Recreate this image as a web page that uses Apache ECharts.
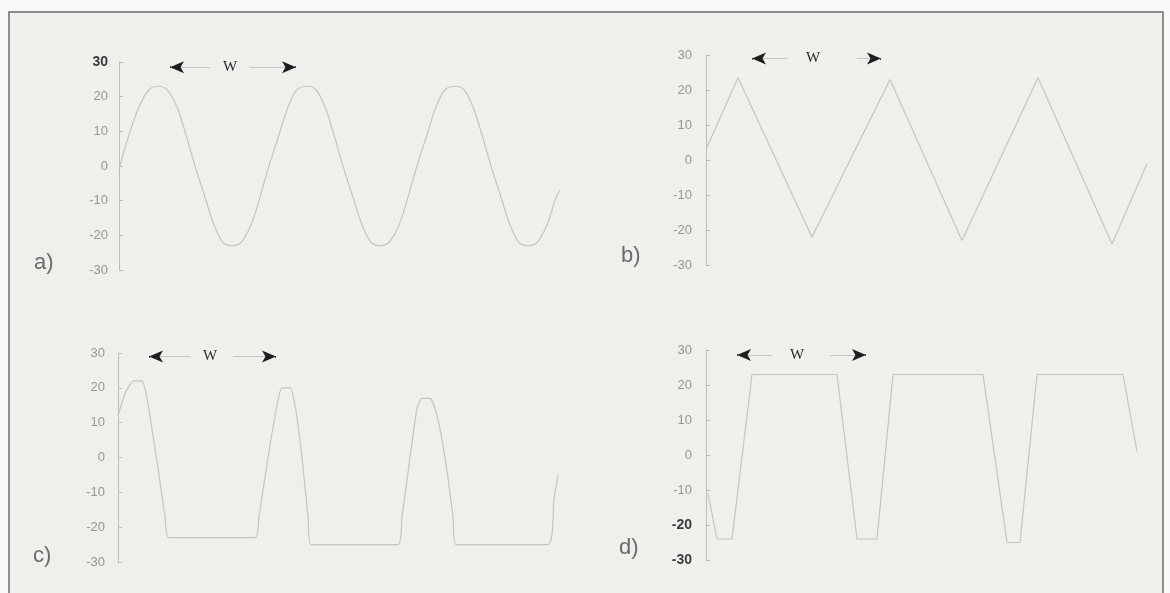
<!DOCTYPE html>
<html><head><meta charset="utf-8">
<script src="https://cdn.jsdelivr.net/npm/echarts@6/dist/echarts.min.js"></script>
<style>html,body{margin:0;padding:0;background:#f9f9f7;}#c{width:1170px;height:593px;}</style>
</head><body><div id="c"></div>
<script>
// ---- data (time offsets along the trace, amplitude values) ----
const yTicks = [-30, -20, -10, 0, 10, 20, 30];
const panelLabels = ['a)', 'b)', 'c)', 'd)'];
const wText = 'W';

// a) sine wave
const tA = [0,10,20,30,39,48,58,67,76,86,95,104,113,122,132,141,150,160,169,178,188,197,206,215,224,234,243,252,261,270,280,289,298,308,317,326,336,345,354,363,372,382,391,400,409,418,428,437,441];
const vA = [-1,9,17,22,23,22,17,9,0,-9,-17,-22,-23,-22,-17,-9,0,9,17,22,23,22,17,9,0,-9,-17,-22,-23,-22,-17,-9,0,9,17,22,23,22,17,9,0,-9,-17,-22,-23,-22,-17,-9,-7];
// b) triangle wave
const tB = [0,32,106,184,256,332,406,441];
const vB = [3,23.5,-22,23,-23,23.5,-24,-1];
// c) narrow positive pulses, clipped at the bottom
const tC = [0,8,16,24,29,33,40,47,51,137,141,150,159,164,172,177,184,190,193,280,284,292,299,304,312,319,327,335,338,430,436,440];
const vC = [12,19,22,22,17,10,-3,-17,-23,-23,-17,0,15,20,20,15,0,-17,-25,-25,-17,0,14,17,17,12,0,-17,-25,-25,-12,-5];
// d) narrow negative pulses, clipped at the top
const tD = [2,11,26,46,131,151,171,187,277,301,314,331,417,431];
const vD = [-11,-24,-24,23,23,-24,-24,23,23,-25,-25,23,23,1];

// W period marker (arrow head centres, faint line ends, label position, level)
const wA = {l: 51, lEnd: 91, txt: 111, rStart: 131, r: 177, y: 28.5};
const wB = {l: 46, lEnd: 81, txt: 107, rStart: 151, r: 175, y: 29};
const wC = {l: 31, lEnd: 72, txt: 92, rStart: 115, r: 158, y: 29};
const wD = {l: 31, lEnd: 66, txt: 91, rStart: 124, r: 160, y: 28.6};

const strongLabels = [[30], [], [], [-20, -30]];

const grids = [
  {left: 119, top: 62, width: 445, height: 208},
  {left: 706, top: 55, width: 445, height: 210},
  {left: 118, top: 353, width: 445, height: 209},
  {left: 706, top: 350, width: 445, height: 210}
];
const titlePos = [
  {left: 29, top: 247}, {left: 616, top: 240}, {left: 28, top: 540}, {left: 614, top: 532}
];
const labelMargin = [11, 14, 13, 14];

const traces = [[tA, vA], [tB, vB], [tC, vC], [tD, vD]];
const ws = [wA, wB, wC, wD];
const smooth = [0.35, false, 0.2, false];

function zip(t, v) { return t.map((x, i) => [x, v[i]]); }

function markLines(w) {
  const faint = {color: '#c4c4c2', width: 1, type: 'solid'};
  const dark = {color: '#1e1e1e', width: 1.5, type: 'solid'};
  return [
    [{coord: [w.l, w.y], symbol: 'none', lineStyle: faint}, {coord: [w.lEnd, w.y], symbol: 'none'}],
    [{coord: [w.rStart, w.y], symbol: 'none', lineStyle: faint}, {coord: [w.r, w.y], symbol: 'none'}],
    [{coord: [w.l, w.y], symbol: 'arrow', lineStyle: dark}, {coord: [w.l + 1, w.y], symbol: 'none'}],
    [{coord: [w.r - 1, w.y], symbol: 'none', lineStyle: dark}, {coord: [w.r, w.y], symbol: 'arrow'}]
  ];
}

const option = {
  animation: false,
  backgroundColor: '#f9f9f7',
  graphic: [{
    type: 'rect', silent: true, z: 0,
    shape: {x: 9, y: 12, width: 1154, height: 592},
    style: {fill: '#efefec', stroke: '#8e8e8c', lineWidth: 2}
  }],
  title: panelLabels.map((t, i) => ({
    text: t, left: titlePos[i].left, top: titlePos[i].top,
    textStyle: {fontSize: 22, fontWeight: 'normal', color: '#6a6a6a', fontFamily: 'Liberation Sans, Arial, sans-serif'}
  })),
  grid: grids,
  xAxis: grids.map((g, i) => ({
    type: 'value', gridIndex: i, min: 0, max: 445, show: false
  })),
  yAxis: grids.map((g, i) => ({
    type: 'value', gridIndex: i, min: -30, max: 30, interval: 10,
    axisLine: {show: true, lineStyle: {color: '#bcbcba', width: 1}},
    axisTick: {show: true, inside: true, length: 4, lineStyle: {color: '#bcbcba'}},
    splitLine: {show: false},
    axisLabel: {
      margin: labelMargin[i],
      formatter: v => (strongLabels[i].indexOf(v) >= 0 ? '{s|' + v + '}' : '{n|' + v + '}'),
      rich: {
        s: {fontSize: 14, fontWeight: 'bold', color: '#3c3c3c', fontFamily: 'Liberation Sans, Arial, sans-serif'},
        n: {fontSize: 13, color: '#969694', fontFamily: 'Liberation Sans, Arial, sans-serif'}
      }
    }
  })),
  series: traces.map((tr, i) => ({
    type: 'line', xAxisIndex: i, yAxisIndex: i,
    data: zip(tr[0], tr[1]),
    showSymbol: false, smooth: smooth[i],
    lineStyle: {color: '#c4c4c2', width: 1.2},
    z: 3,
    markLine: {
      silent: true, animation: false, symbolSize: [9, 14],
      label: {show: false},
      data: markLines(ws[i])
    },
    markPoint: {
      silent: true, animation: false,
      symbol: 'rect', symbolSize: 1, itemStyle: {color: 'rgba(0,0,0,0)'},
      label: {show: true, position: 'inside', formatter: wText, color: '#2a2a2a', fontSize: 15, fontFamily: 'Liberation Serif, Times New Roman, serif'},
      data: [{coord: [ws[i].txt, ws[i].y]}]
    }
  }))
};

const chart = echarts.init(document.getElementById('c'), null, {renderer: 'canvas'});
chart.setOption(option);
</script>
</body></html>
